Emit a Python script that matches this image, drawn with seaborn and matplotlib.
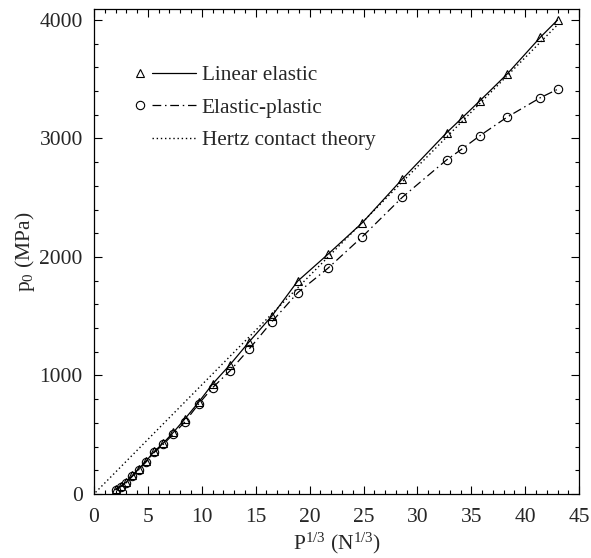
import matplotlib
matplotlib.use("Agg")
import matplotlib.pyplot as plt
from matplotlib.lines import Line2D
from matplotlib.legend_handler import HandlerBase
from matplotlib.ticker import MultipleLocator
import seaborn as sns

# P^(1/3) values (N^(1/3)) and maximum contact pressure p0 (MPa)
p_cbrt = [2.0, 2.5, 3.0, 3.57, 4.13, 4.8, 5.6, 6.43, 7.36, 8.4, 9.7, 11.0, 12.6,
          14.4, 16.5, 18.9, 21.7, 24.9, 28.6, 32.7, 34.1, 35.8, 38.3, 41.4, 43.0]
linear_elastic = [40, 68, 100, 158, 210, 275, 360, 430, 520, 630, 774, 928, 1089,
                  1285, 1502, 1797, 2023, 2290, 2658, 3048, 3170, 3319, 3542, 3854, 4000]
elastic_plastic = [34, 62, 95, 150, 202, 267, 352, 419, 506, 605, 759, 897, 1038,
                   1224, 1454, 1699, 1905, 2172, 2504, 2819, 2909, 3024, 3179, 3344, 3415]
hertz_x = [0.15, 43.0]
hertz_y = [14.0, 3960.0]

labels = ["Linear elastic", "Elastic-plastic", "Hertz contact theory"]


class MarkerThenLine(HandlerBase):
    # marker on the left, then a short line sample
    def create_artists(self, legend, orig, xdescent, ydescent, width, height,
                       fontsize, trans):
        y = height / 2 - ydescent
        x0 = -xdescent
        ln = Line2D([x0 + 0.29 * width, x0 + width], [y, y])
        ln.update_from(orig)
        ln.set_marker("None")
        ln.set_transform(trans)
        arts = [ln]
        if orig.get_marker() not in ("None", None, ""):
            mk = Line2D([x0 + 0.095 * width], [y])
            mk.update_from(orig)
            mk.set_linestyle("None")
            mk.set_transform(trans)
            arts.append(mk)
        return arts


sns.set_style("ticks")
plt.rcParams["font.family"] = ["Liberation Serif", "DejaVu Serif"]
plt.rcParams["mathtext.fontset"] = "custom"
plt.rcParams["mathtext.rm"] = "Liberation Serif"
plt.rcParams["mathtext.it"] = "Liberation Serif:italic"

fig = plt.figure(figsize=(5.91, 5.58), dpi=100)
ax = fig.add_axes([0.159, 0.1147, 0.821, 0.8693])

sns.lineplot(x=p_cbrt, y=linear_elastic, ax=ax, color="black", lw=0.9,
             marker="^", markersize=6, markerfacecolor="none",
             markeredgecolor="black", markeredgewidth=0.8)
sns.lineplot(x=p_cbrt, y=elastic_plastic, ax=ax, color="black", lw=0.9,
             linestyle=(0, (7, 3, 1.2, 3)),
             marker="o", markersize=6, markerfacecolor="none",
             markeredgecolor="black", markeredgewidth=0.8)
sns.lineplot(x=hertz_x, y=hertz_y, ax=ax, color="black", lw=1.0,
             linestyle=(0, (1, 2)))

ax.set_xlim(0, 45)
ax.set_ylim(0, 4093)
ax.xaxis.set_major_locator(MultipleLocator(5))
ax.xaxis.set_minor_locator(MultipleLocator(1))
ax.yaxis.set_major_locator(MultipleLocator(1000))
ax.yaxis.set_minor_locator(MultipleLocator(200))
ax.tick_params(which="both", direction="in", top=True, right=True,
               labelsize=15.5, width=0.8, color="black")
ax.tick_params(which="major", length=6)
ax.tick_params(axis="x", which="major", pad=10)
ax.tick_params(axis="y", which="major", pad=8)
ax.tick_params(which="minor", length=3)
for s in ax.spines.values():
    s.set_linewidth(0.9)
    s.set_color("black")

ax.set_xlabel(r"P$^{1/3}$ (N$^{1/3}$)", fontsize=15.5, labelpad=3)
ax.set_ylabel(r"p$_0$ (MPa)", fontsize=15.5, labelpad=2)

handles = ax.get_lines()[:3]
ax.legend(handles, labels, loc="upper left", bbox_to_anchor=(0.082, 0.884),
          frameon=False, fontsize=15.3, borderpad=0, borderaxespad=0,
          handlelength=2.95, handletextpad=0.25, labelspacing=0.6,
          handler_map={Line2D: MarkerThenLine()})

fig.savefig("out.png", dpi=100)
